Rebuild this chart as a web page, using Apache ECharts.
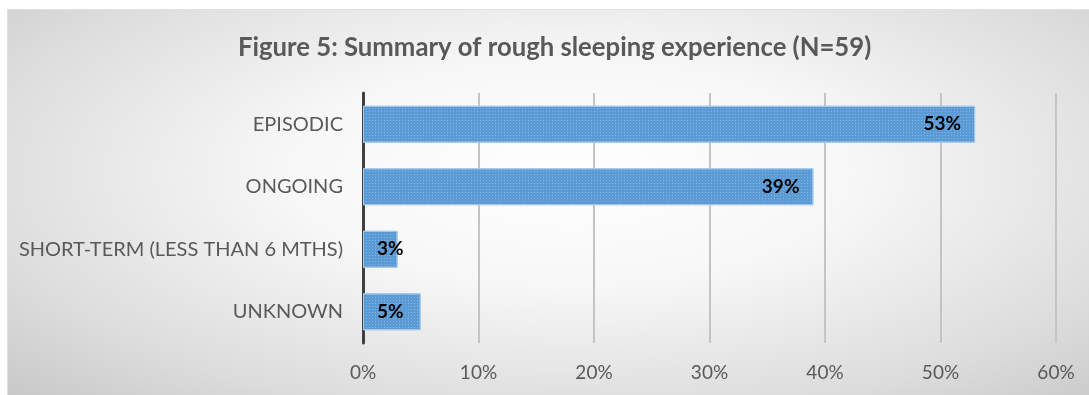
<!DOCTYPE html>
<html>
<head>
<meta charset="utf-8">
<script src="https://cdn.jsdelivr.net/npm/echarts@6/dist/echarts.min.js"></script>
<style>
html,body{margin:0;padding:0;background:#fff;}
#bg{position:absolute;left:7px;top:9px;width:1082px;height:386px;
background:radial-gradient(ellipse 75% 85% at 52% 42%, #ffffff 0%, #f7f7f7 35%, #dcdcdc 75%, #c6c6c6 100%);
border-left:1px solid #e0e0e0;border-top:1px solid #e0e0e0;}
#chart{position:absolute;left:0;top:0;width:1089px;height:395px;}
</style>
</head>
<body>
<div id="bg"></div>
<div id="chart"></div>
<script>
const titleText = 'Figure 5: Summary of rough sleeping experience (N=59)';
const categories = ['EPISODIC', 'ONGOING', 'SHORT-TERM (LESS THAN 6 MTHS)', 'UNKNOWN'];
const values = [53, 39, 3, 5];
const xTicks = [0, 10, 20, 30, 40, 50, 60];

const chart = echarts.init(document.getElementById('chart'));
const font = 'Lato, "Open Sans", sans-serif';
chart.setOption({
  animation: false,
  title: {
    text: titleText, left: 233, top: 30,
    textStyle: {fontFamily: font, fontWeight: 'bold', fontSize: 25.7, color: '#595959'}
  },
  grid: {left: 363, right: 33, top: 93, bottom: 52, containLabel: false},
  xAxis: {
    type: 'value', min: xTicks[0], max: xTicks[xTicks.length - 1], interval: 10,
    axisLine: {show: false}, axisTick: {show: false},
    splitLine: {show: true, lineStyle: {color: '#c4c4c4', width: 2}},
    axisLabel: {formatter: v => v + '%', color: '#595959', fontSize: 19, fontFamily: font, margin: 20}
  },
  yAxis: {
    type: 'category', data: categories, inverse: true,
    axisLine: {show: true, lineStyle: {color: '#404040', width: 3}},
    axisTick: {show: false},
    axisLabel: {color: '#595959', fontSize: 20, fontFamily: font, margin: 20}
  },
  series: [{
    type: 'bar', barWidth: 37,
    data: values.map(v => ({
      value: v,
      label: {position: v < 10 ? 'insideLeft' : 'insideRight'}
    })),
    itemStyle: {
      color: '#5b9bd5', borderColor: '#a8c9ea', borderWidth: 1,
      decal: {symbol: 'rect', symbolSize: 1, dashArrayX: [1, 2], dashArrayY: [1, 2],
        color: 'rgba(200,225,250,0.35)'}
    },
    label: {show: true, distance: 14, formatter: p => p.value + '%', color: '#000',
      fontWeight: 'bold', fontSize: 19, fontFamily: font}
  }]
});
</script>
</body>
</html>
